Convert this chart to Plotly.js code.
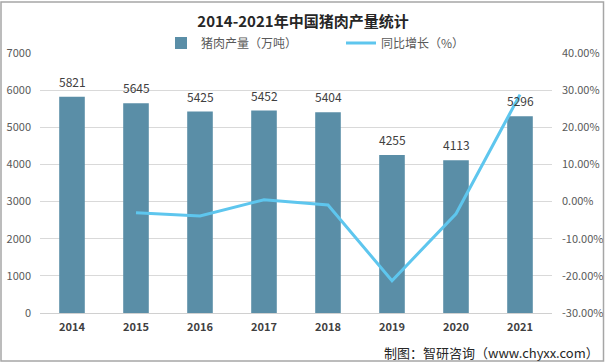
<!DOCTYPE html>
<html><head><meta charset="utf-8">
<script src="https://cdn.plot.ly/plotly-3.0.1.min.js"></script>
<style>html,body{margin:0;padding:0;background:#fff;}#chart{width:606px;height:364px;}</style>
</head><body><div id="chart"></div>
<script>
const years = ['2014','2015','2016','2017','2018','2019','2020','2021'];
const output = [5821, 5645, 5425, 5452, 5404, 4255, 4113, 5296];
const growthYears = ['2015','2016','2017','2018','2019','2020','2021'];
const growth = [-3.0, -3.9, 0.5, -0.9, -21.3, -3.3, 28.8];
const leftTicks = [0,1000,2000,3000,4000,5000,6000,7000];
const rightTicks = [-30,-20,-10,0,10,20,30,40];
const rightTickText = rightTicks.map(v => v.toFixed(2) + '%');

const font = '"Noto Sans CJK SC", "Liberation Sans", sans-serif';
const traces = [
  {type:'bar', x:years, y:output, name:'猪肉产量（万吨）',
   marker:{color:'#5a8ea7'}},
  {type:'scatter', mode:'lines', x:growthYears, y:growth, yaxis:'y2',
   name:'同比增长（%）', line:{color:'#5ec6ee', width:3}}
];
const W = 512, H = 260, L = 40, T = 53;
// category index i = position of years[i] on the category axis
const valueLabels = years.map((yr, i) => ({
  xref:'x', yref:'y', x:i, y:output[i], text:String(output[i]), showarrow:false,
  yanchor:'bottom', yshift:5, font:{size:12, color:'#404040', family:font}
}));
const layout = {
  width:606, height:364, margin:{l:40,r:54,t:53,b:51,autoexpand:false},
  paper_bgcolor:'#fff', plot_bgcolor:'#fff',
  font:{family:font, size:11, color:'#595959'},
  title:{text:'<b>2014-2021年中国猪肉产量统计</b>', x:0.5, xanchor:'center', y:0.94, yanchor:'middle',
         font:{size:15,color:'#262626',family:font}},
  showlegend:true,
  legend:{orientation:'h', x:(161-L)/W, xanchor:'left', y:(T+H-43)/H, yanchor:'middle',
          font:{size:12,color:'#595959'}, traceorder:'normal', itemwidth:30,
          entrywidth:135, entrywidthmode:'pixels'},
  bargap:0.6,
  xaxis:{type:'category', range:[-0.5, 7.5], tickfont:{size:11,color:'#404040',family:font}, showline:false,
         ticks:'', showgrid:false, zeroline:false, tickprefix:'<b>', ticksuffix:'</b>',
         ticklabelstandoff:6},
  yaxis:{range:[0,7000], tickvals:leftTicks, showgrid:true, gridcolor:'#d9d9d9',
         zeroline:true, zerolinecolor:'#d0d0d0', ticks:'', tickfont:{size:11,color:'#595959'},
         showline:false, automargin:false, ticklabelstandoff:8},
  yaxis2:{range:[-30.001,40.001], tickmode:'array', tickvals:rightTicks, ticktext:rightTickText,
          overlaying:'y', side:'right', showgrid:false, automargin:false, ticklabelstandoff:9,
          zeroline:false, tickfont:{size:11,color:'#595959'}},
  shapes:[
    {type:'rect', xref:'paper', yref:'paper', x0:(1-L)/W, x1:(603.5-L)/W, y0:(T+H-361)/H, y1:(T+H-2)/H,
     line:{color:'#a6a6a6', width:1.5}, fillcolor:'rgba(0,0,0,0)'}
  ],
  annotations:valueLabels.concat([
    {xref:'paper', yref:'paper', x:(601-L)/W, xanchor:'right', y:(T+H-352)/H, yanchor:'middle', showarrow:false,
     text:'制图：智研咨询（www.chyxx.com）', font:{size:13,color:'#262626',family:font}}
  ])
};
Plotly.newPlot('chart', traces, layout, {staticPlot:true});
</script></body></html>
